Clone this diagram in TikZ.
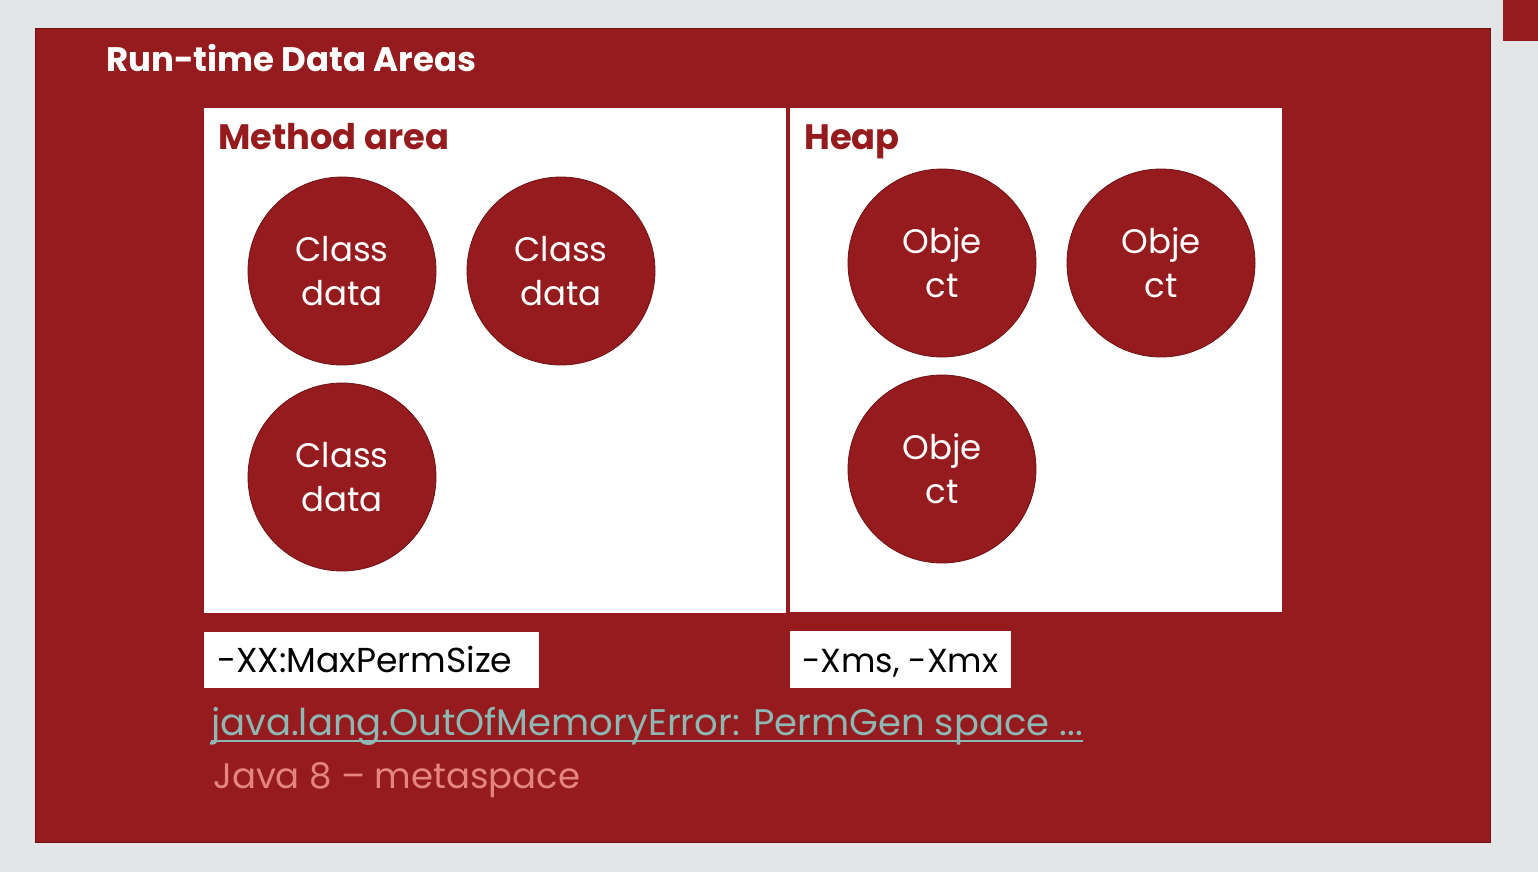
\documentclass[tikz,border=0pt]{standalone}
\usepackage{fontspec}
\setmainfont{Poppins}
\definecolor{slide}{HTML}{E4E5E7}
\definecolor{jred}{HTML}{951B1E}
\definecolor{jredline}{HTML}{6E1215}
\definecolor{linkteal}{HTML}{8DB8B3}
\definecolor{softpink}{HTML}{E4857F}
\begin{document}
\begin{tikzpicture}[x=1pt,y=-1pt,
  area/.style={fill=white, draw=none, inner sep=0pt, anchor=north west},
  areatitle/.style={anchor=base west, text=jred, font=\fontsize{35.3}{40}\selectfont\bfseries, inner sep=0pt},
  blob/.style={circle, fill=jred, draw=jredline, line width=0.8pt, minimum size=188pt, inner sep=0pt,
               text=white, align=center, font=\fontsize{34}{44}\selectfont},
  optbox/.style={fill=white, inner sep=0pt, anchor=north west},
  opttext/.style={anchor=base west, inner sep=0pt, text=black, font=\fontsize{34.6}{40}\selectfont}
]
\useasboundingbox (0,0) rectangle (1538,872);
\fill[slide] (0,0) rectangle (1538,872);

% main panel and the corner tab
\node[fill=jred, draw=jredline, line width=1pt, inner sep=0pt, anchor=north west,
      minimum width=1455pt, minimum height=814pt] (panel) at (35,28) {};
\node[fill=jred, inner sep=0pt, anchor=north west,
      minimum width=36pt, minimum height=41pt] (tab) at (1503,0) {};

\node[anchor=base west, inner sep=0pt, text=white, font=\fontsize{34}{40}\selectfont\bfseries]
  (title) at (106,72) {Run-time Data Areas};

% the two areas
\node[area, minimum width=582pt, minimum height=505pt] (method) at (204,108) {};
\node[area, minimum width=492pt, minimum height=504pt] (heap) at (790,108) {};
\node[areatitle] (methodlbl) at (218,149) {Method area};
\node[areatitle] (heaplbl) at (804,149) {Heap};

% class data in the method area
\node[blob] (cd1) at (342,271) {Class\\data};
\node[blob] (cd2) at (561,271) {Class\\data};
\node[blob] (cd3) at (342,477) {Class\\data};

% objects on the heap
\node[blob] (ob1) at (942,263) {Obje\\ct};
\node[blob] (ob2) at (1161,263) {Obje\\ct};
\node[blob] (ob3) at (942,469) {Obje\\ct};

% JVM options
\node[optbox, minimum width=335pt, minimum height=56pt] (permbox) at (204,632) {};
\node[opttext] (permtxt) at (217,672) {-XX:MaxPermSize};
\node[optbox, minimum width=221pt, minimum height=57pt] (xmbox) at (790,631) {};
\node[opttext, font=\fontsize{33.4}{40}\selectfont] (xmtxt) at (802,672) {-Xms, -Xmx};

% notes below
\node[anchor=base west, inner sep=0pt, text=linkteal, font=\fontsize{37}{42}\selectfont]
  (oom) at (211,735) {java.lang.OutOfMemoryError: PermGen space ...};
\draw[linkteal, line width=1.5pt] ([yshift=-6pt]oom.base west) -- ([yshift=-6pt]oom.base east);
\node[anchor=base west, inner sep=0pt, text=softpink, font=\fontsize{35.5}{42}\selectfont]
  (meta) at (213,788) {Java 8 – metaspace};
\end{tikzpicture}
\end{document}
